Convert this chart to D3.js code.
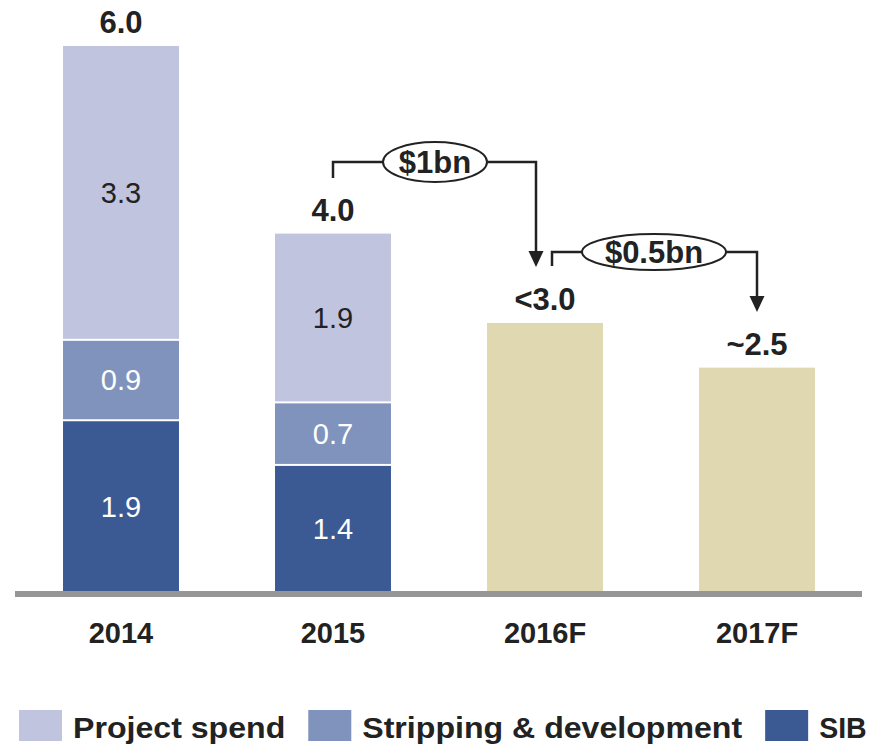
<!DOCTYPE html>
<html>
<head>
<meta charset="utf-8">
<script src="https://cdn.jsdelivr.net/npm/d3@7"></script>
<style>
  body { margin: 0; background: #fff; }
  svg { display: block; font-family: "Liberation Sans", Arial, sans-serif; }
</style>
</head>
<body>
<svg id="chart" width="886" height="745"></svg>
<script>
// chart values
const years = ['2014', '2015', '2016F', '2017F']
const sib = [1.9, 1.4, null, null]
const stripping = [0.9, 0.7, null, null]
const projectSpend = [3.3, 1.9, null, null]
const forecast = [null, null, 3.0, 2.5]
const totalLabels = ['6.0', '4.0', '<3.0', '~2.5']
const seriesNames = ['Project spend', 'Stripping & development', 'SIB']
const savings = [
  { from: '2015', to: '2016F', label: '$1bn' },
  { from: '2016F', to: '2017F', label: '$0.5bn' },
]

const colors = {
  'SIB': '#3b5a94',
  'Stripping & development': '#7f93bc',
  'Project spend': '#c0c4de',
  forecast: '#e0d8b0',
}

const svg = d3.select('#chart')

const x = d3.scaleBand()
  .domain(years)
  .range([15, 863])
  .paddingInner(0.453)
  .paddingOuter(0.2265)

const y = d3.scaleLinear()
  .domain([0, 6.1])
  .range([591, 46])

// stacked rows
const rows = years.map((yr, i) => ({
  year: yr,
  'SIB': sib[i] || 0,
  'Stripping & development': stripping[i] || 0,
  'Project spend': projectSpend[i] || 0,
}))
const stack = d3.stack().keys(['SIB', 'Stripping & development', 'Project spend'])
const layers = stack(rows)

layers.forEach((layer, li) => {
  const g = svg.append('g')
  layer.forEach(d => {
    if (d[1] - d[0] <= 0) return
    const top = y(d[1])
    const h = y(d[0]) - y(d[1]) - (li > 0 ? 2 : 0)
    g.append('rect')
      .attr('x', x(d.data.year))
      .attr('y', top)
      .attr('width', x.bandwidth())
      .attr('height', h)
      .attr('fill', colors[layer.key])
    g.append('text')
      .attr('x', x(d.data.year) + x.bandwidth() / 2)
      .attr('y', top + h / 2)
      .attr('dy', '0.36em')
      .attr('text-anchor', 'middle')
      .attr('font-size', 29)
      .attr('fill', layer.key === 'Project spend' ? '#222' : '#fff')
      .text((d[1] - d[0]).toFixed(1))
  })
})

// forecast bars
years.forEach((yr, i) => {
  if (forecast[i] == null) return
  svg.append('rect')
    .attr('x', x(yr))
    .attr('y', y(forecast[i]))
    .attr('width', x.bandwidth())
    .attr('height', y(0) - y(forecast[i]))
    .attr('fill', colors.forecast)
})

const totals = years.map((yr, i) => forecast[i] != null ? forecast[i]
  : sib[i] + stripping[i] + projectSpend[i])

// total labels
svg.append('g').selectAll('text')
  .data(years)
  .join('text')
  .attr('x', d => x(d) + x.bandwidth() / 2)
  .attr('y', (d, i) => y(totals[i]) - 13)
  .attr('text-anchor', 'middle')
  .attr('font-size', 31)
  .attr('font-weight', 'bold')
  .attr('fill', '#222')
  .text((d, i) => totalLabels[i])

// baseline
svg.append('rect')
  .attr('x', 15)
  .attr('y', y(0))
  .attr('width', 847)
  .attr('height', 6)
  .attr('fill', '#969696')

// x labels
svg.append('g').selectAll('text')
  .data(years)
  .join('text')
  .attr('x', d => x(d) + x.bandwidth() / 2)
  .attr('y', 643)
  .attr('text-anchor', 'middle')
  .attr('font-size', 29)
  .attr('font-weight', 'bold')
  .attr('fill', '#222')
  .text(d => d)

// savings brackets
const ann = svg.append('g')
const bracketSpec = [
  { x0off: 0, x1off: -9, yLine: 162, y0: 178, tip: 267, cx: 435, rx: 52, ry: 20 },
  { x0off: 7, x1off: 0, yLine: 252, y0: 266, tip: 312, cx: 654, rx: 72, ry: 18 },
]
savings.forEach((s, i) => {
  const b = bracketSpec[i]
  const xa = x(s.from) + x.bandwidth() / 2 + b.x0off
  const xb = x(s.to) + x.bandwidth() / 2 + b.x1off
  ann.append('path')
    .attr('d', `M${xa},${b.y0}V${b.yLine}H${b.cx - b.rx}M${b.cx + b.rx},${b.yLine}H${xb}V${b.tip - 12}`)
    .attr('fill', 'none')
    .attr('stroke', '#222')
    .attr('stroke-width', 2.5)
  ann.append('path')
    .attr('d', `M${xb - 7.5},${b.tip - 16}L${xb + 7.5},${b.tip - 16}L${xb},${b.tip}Z`)
    .attr('fill', '#222')
  ann.append('ellipse')
    .attr('cx', b.cx)
    .attr('cy', b.yLine)
    .attr('rx', b.rx)
    .attr('ry', b.ry)
    .attr('fill', '#fff')
    .attr('stroke', '#222')
    .attr('stroke-width', 2)
  ann.append('text')
    .attr('x', b.cx)
    .attr('y', b.yLine)
    .attr('dy', '0.36em')
    .attr('text-anchor', 'middle')
    .attr('font-size', 31)
    .attr('font-weight', 'bold')
    .attr('fill', '#222')
    .text(s.label)
})

// legend
const legend = svg.append('g')
let lx = 19
seriesNames.forEach(name => {
  legend.append('rect')
    .attr('x', lx)
    .attr('y', 710)
    .attr('width', 43)
    .attr('height', 31)
    .attr('fill', colors[name])
  const t = legend.append('text')
    .attr('x', lx + 54)
    .attr('y', 738)
    .attr('font-size', 30)
    .attr('font-weight', 'bold')
    .attr('fill', '#222')
    .text(name)
  // reference legend type is slightly wider than Liberation Sans
  const w = t.node().getComputedTextLength() * (name === 'SIB' ? 0.95 : 1.07)
  t.attr('textLength', w).attr('lengthAdjust', 'spacingAndGlyphs')
  lx += 54 + w + 23
})
</script>
</body>
</html>
